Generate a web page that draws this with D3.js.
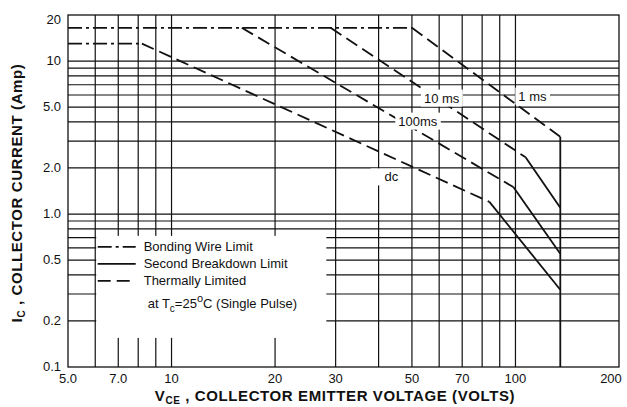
<!DOCTYPE html>
<html>
<head>
<meta charset="utf-8">
<script src="https://cdn.jsdelivr.net/npm/d3@7"></script>
<style>
  body { margin: 0; background: #fff; }
  svg { font-family: "Liberation Sans", Arial, sans-serif; }
</style>
</head>
<body>
<div id="chart"></div>
<script>
// tick labels
const xTicks = [5, 7, 10, 20, 30, 50, 70, 100, 200];
const xTickLabels = ['5.0', '7.0', '10', '20', '30', '50', '70', '100', '200'];
const yTicks = [0.1, 0.2, 0.5, 1, 2, 5, 10, 20];
const yTickLabels = ['0.1', '0.2', '0.5', '1.0', '2.0', '5.0', '10', '20'];
// grid
const xGrid = [6, 7, 8, 9, 10, 20, 30, 40, 50, 60, 70, 80, 90, 100];
const yGrid = [0.2, 0.3, 0.4, 0.5, 0.6, 0.7, 0.8, 0.9, 1, 2, 3, 4, 5, 6, 7, 8, 9, 10];

// curves (volts / amps)
const pulses = ['1 ms', '10 ms', '100ms', 'dc'];
const bondV = [[5, 50], [5, 8.2]];
const bondI = [[16.5, 16.5], [13, 13]];
const thermalV = [[50, 135], [29, 107], [16, 98.6], [8.2, 84]];
const thermalI = [[16.5, 3.2], [16.5, 2.35], [16.5, 1.5], [13, 1.2]];
const breakdownV = [[135, 135], [107, 135], [98.6, 135], [84, 135]];
const breakdownI = [[3.2, 0.1], [2.35, 1.1], [1.5, 0.55], [1.2, 0.32]];
// where each curve name sits (volts / amps)
const labelV = [112, 61, 52, 43.6];
const labelI = [5.9, 5.73, 4.05, 1.75];

const legendItems = ['Bonding Wire Limit', 'Second Breakdown Limit', 'Thermally Limited'];

const W = 627, H = 407;
const margin = { top: 15, right: 8, bottom: 40, left: 68 };

const svg = d3.select('#chart').append('svg')
    .attr('width', W).attr('height', H);

const x = d3.scaleLog().domain([5, 200]).range([margin.left, W - margin.right]);
const y = d3.scaleLog().domain([0.1, 20]).range([H - margin.bottom, margin.top]);

const ink = '#111';

// grid
const grid = svg.append('g').attr('stroke', ink).attr('stroke-width', 1.2);
grid.selectAll('.vg').data(xGrid).enter().append('line')
    .attr('x1', d => x(d)).attr('x2', d => x(d))
    .attr('y1', y(20)).attr('y2', y(0.1));
grid.selectAll('.hg').data(yGrid).enter().append('line')
    .attr('x1', x(5)).attr('x2', x(200))
    .attr('y1', d => y(d)).attr('y2', d => y(d));

// white area behind legend
svg.append('rect')
    .attr('x', x(6) + 1).attr('y', y(0.72))
    .attr('width', x(28) - x(6)).attr('height', y(0.155) - y(0.72))
    .attr('fill', '#fff');

// frame
svg.append('rect')
    .attr('x', x(5)).attr('y', y(20))
    .attr('width', x(200) - x(5)).attr('height', y(0.1) - y(20))
    .attr('fill', 'none').attr('stroke', ink).attr('stroke-width', 1.3);

const line = d3.line().x(d => x(d[0])).y(d => y(d[1]));
const curves = svg.append('g').attr('fill', 'none').attr('stroke', ink).attr('stroke-width', 1.8);

bondV.forEach((v, i) => {
    curves.append('path')
        .attr('d', line(v.map((d, j) => [d, bondI[i][j]])))
        .attr('stroke-dasharray', '14,4,3,4');
});
thermalV.forEach((v, i) => {
    curves.append('path')
        .attr('d', line(v.map((d, j) => [d, thermalI[i][j]])))
        .attr('stroke-dasharray', '13,6');
});
breakdownV.forEach((v, i) => {
    curves.append('path')
        .attr('d', line(v.map((d, j) => [d, breakdownI[i][j]])));
});

// labels of curves, on white boxes that cut the lines
const lab = svg.append('g').attr('font-size', 13).attr('fill', ink);
pulses.forEach((p, i) => {
    const t = lab.append('text')
        .attr('x', x(labelV[i])).attr('y', y(labelI[i]))
        .attr('text-anchor', 'middle').attr('dy', '0.35em')
        .text(p);
    const b = t.node().getBBox();
    const padL = p === 'dc' ? 14 : 3;
    lab.insert('rect', 'text')
        .attr('x', b.x - padL).attr('y', b.y - 1)
        .attr('width', b.width + padL + 3).attr('height', b.height + 2)
        .attr('fill', '#fff');
});

// axes tick labels
const ax = svg.append('g').attr('font-size', 13).attr('fill', ink);
ax.selectAll('.xt').data(xTicks).enter().append('text')
    .attr('x', (d, i) => i === xTicks.length - 1 ? x(d) - 8 : x(d))
    .attr('y', y(0.1) + 16)
    .attr('text-anchor', 'middle')
    .text((d, i) => xTickLabels[i]);
ax.selectAll('.yt').data(yTicks).enter().append('text')
    .attr('x', x(5) - 7)
    .attr('y', (d, i) => y(d) + (i === yTicks.length - 1 ? 9 : 4))
    .attr('text-anchor', 'end')
    .text((d, i) => yTickLabels[i]);

// axis titles
const xt = svg.append('text')
    .attr('x', 335).attr('y', H - 6)
    .attr('text-anchor', 'middle')
    .attr('font-size', 15).attr('letter-spacing', 0.6)
    .attr('font-weight', 'bold').attr('fill', ink);
xt.append('tspan').text('V');
xt.append('tspan').attr('font-size', 10).attr('dy', 3).text('CE');
xt.append('tspan').attr('dy', -3).text(' , COLLECTOR EMITTER VOLTAGE (VOLTS)');

const yt = svg.append('text')
    .attr('transform', `translate(22,${(y(20) + y(0.1)) / 2 + 2}) rotate(-90)`)
    .attr('text-anchor', 'middle')
    .attr('font-size', 15).attr('letter-spacing', 0.6)
    .attr('font-weight', 'bold').attr('fill', ink);
yt.append('tspan').text('I');
yt.append('tspan').attr('font-size', 10).attr('dy', 3).text('C');
yt.append('tspan').attr('dy', -3).text(' , COLLECTOR CURRENT (Amp)');

// legend
const lg = svg.append('g').attr('font-size', 13).attr('fill', ink);
const dashes = ['14,4,3,4', null, '13,6'];
legendItems.forEach((name, i) => {
    const ly = y(0.61) + i * 17;
    lg.append('line')
        .attr('x1', x(6.1)).attr('x2', x(6.1) + 38)
        .attr('y1', ly).attr('y2', ly)
        .attr('stroke', ink).attr('stroke-width', 1.6)
        .attr('stroke-dasharray', dashes[i]);
    lg.append('text')
        .attr('x', x(6.1) + 46).attr('y', ly).attr('dy', '0.35em')
        .text(name);
});
const note = lg.append('text')
    .attr('x', x(6.1) + 50).attr('y', y(0.61) + 3 * 17 + 6).attr('dy', '0.35em');
note.append('tspan').text('at T');
note.append('tspan').attr('font-size', 10).attr('dy', 4).text('c');
note.append('tspan').attr('dy', -4).text('=25');
note.append('tspan').attr('font-size', 11).attr('dy', -6).text('o');
note.append('tspan').attr('dy', 6).text('C (Single Pulse)');
</script>
</body>
</html>
